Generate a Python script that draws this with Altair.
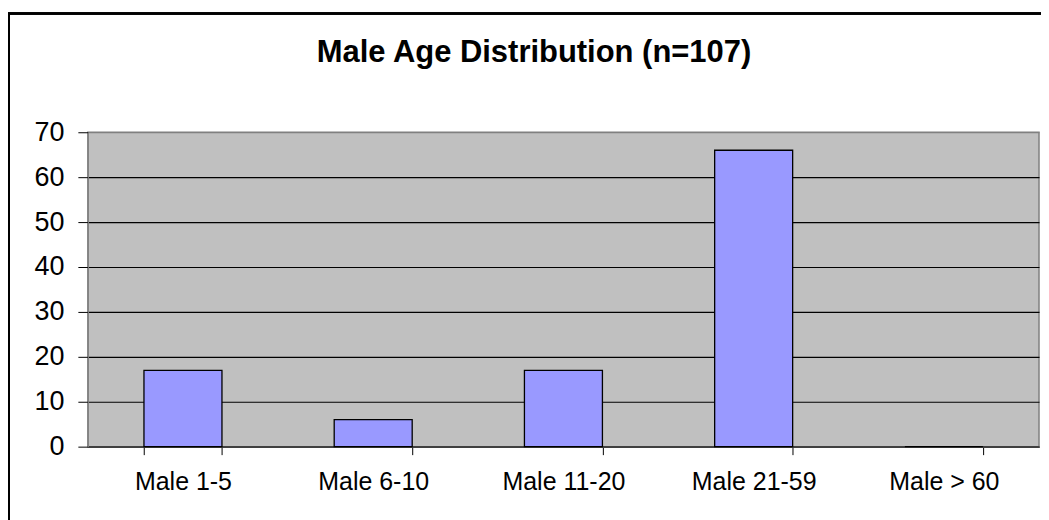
import altair as alt
import pandas as pd

categories = ["Male 1-5", "Male 6-10", "Male 11-20", "Male 21-59", "Male > 60"]
counts = [17, 6, 17, 66, 0]
y_ticks = [0, 10, 20, 30, 40, 50, 60, 70]
title_text = "Male Age Distribution (n=107)"

df = pd.DataFrame({"group": categories, "count": counts})
FONT = "Liberation Sans"

bars = alt.Chart(df).mark_bar(
    color="#9999FF", stroke="black", strokeWidth=1.3
).encode(
    x=alt.X("group:N", sort=categories,
            scale=alt.Scale(paddingInner=0.59, paddingOuter=0.295),
            axis=alt.Axis(title=None, labelAngle=0, labelFontSize=25, labelFont=FONT,
                          labelColor="black", labelPadding=15, tickBand="extent",
                          tickSize=8, tickColor="black", domainColor="#404040",
                          domainWidth=1.5, labelLimit=300)),
    y=alt.Y("count:Q", scale=alt.Scale(domain=[0, 70], nice=False),
            axis=alt.Axis(title=None, values=y_ticks, labelFontSize=27, labelFont=FONT,
                          labelColor="black", labelPadding=14, tickSize=10,
                          tickColor="black", domainColor="#808080",
                          gridColor=alt.condition("datum.value == 70", alt.value("#808080"), alt.value("black")),
                          gridWidth=1.2, grid=True)),
)

border = alt.Chart(df).mark_rect(
    fill=None, stroke="black", strokeWidth=2, clip=False
).encode(
    x=alt.value(-79), x2=alt.value(1100),
    y=alt.value(-119), y2=alt.value(500),
)

title = alt.Chart(pd.DataFrame({"t": [title_text]})).mark_text(
    font=FONT, fontSize=31, fontWeight="bold", color="black",
    align="center", baseline="alphabetic", clip=False
).encode(
    text="t:N", x=alt.value(447), y=alt.value(-70),
)

chart = alt.layer(bars, border, title).properties(
    width=953, height=315,
    autosize=alt.AutoSizeParams(type="none"),
    padding={"left": 80, "top": 124, "right": 2, "bottom": 80},
).configure(background="white").configure_view(
    fill="#C0C0C0", stroke="#808080", strokeWidth=1.5
)

chart.save("out.html", embed_options={"renderer": "svg", "actions": False})
